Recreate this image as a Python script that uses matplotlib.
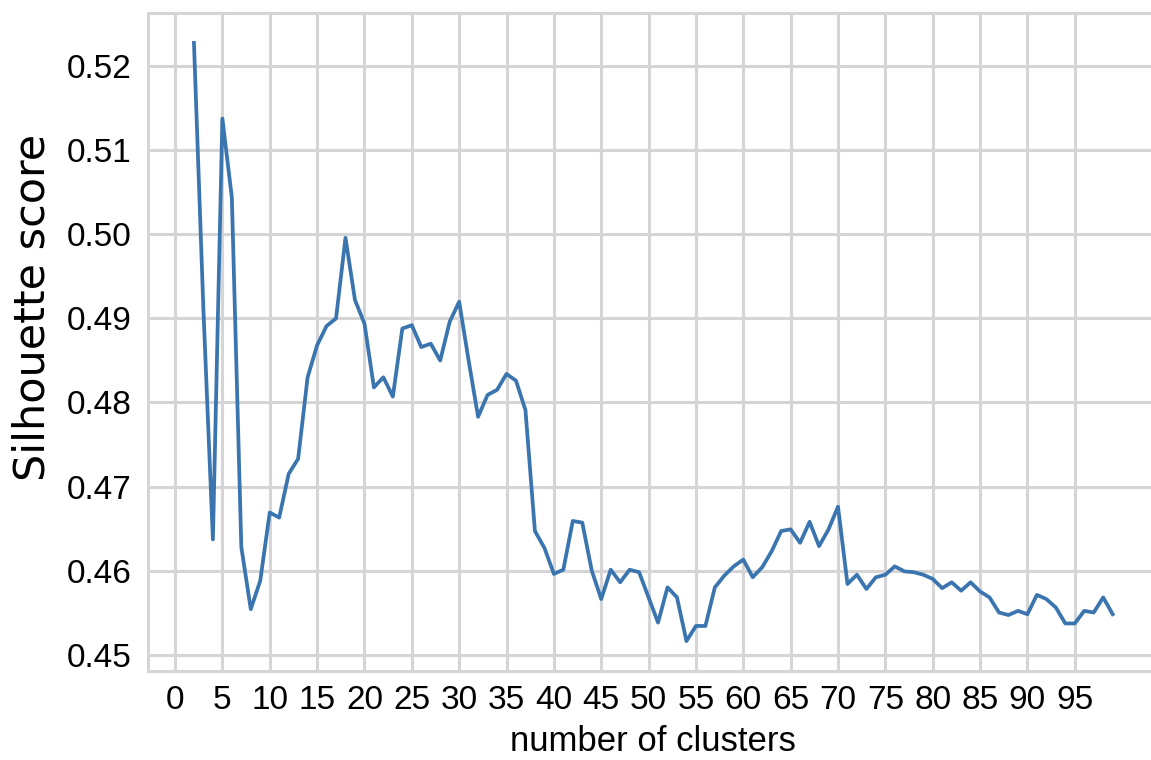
import matplotlib
matplotlib.use("Agg")
import matplotlib.pyplot as plt
import numpy as np

# Silhouette score for each candidate number of clusters
n_clusters = list(range(2, 100))
silhouette = [
    0.5228, 0.4910, 0.4637, 0.5138, 0.5044, 0.4628, 0.4554, 0.4588, 0.4669,  # 2-10
    0.4663, 0.4715, 0.4733, 0.4830, 0.4868, 0.4891, 0.4900, 0.4996, 0.4922,  # 11-19
    0.4894, 0.4818, 0.4830, 0.4807, 0.4888, 0.4892, 0.4866, 0.4870, 0.4850,  # 20-28
    0.4896, 0.4920, 0.4850, 0.4783, 0.4809, 0.4815, 0.4834, 0.4826, 0.4791,  # 29-37
    0.4647, 0.4627, 0.4596, 0.4601, 0.4659, 0.4657, 0.4600, 0.4566, 0.4601,  # 38-46
    0.4586, 0.4601, 0.4598, 0.4568, 0.4538, 0.4580, 0.4568, 0.4516, 0.4534,  # 47-55
    0.4534, 0.4580, 0.4594, 0.4605, 0.4613, 0.4592, 0.4604, 0.4623, 0.4647,  # 56-64
    0.4649, 0.4633, 0.4658, 0.4629, 0.4649, 0.4676, 0.4584, 0.4595, 0.4578,  # 65-73
    0.4592, 0.4595, 0.4605, 0.4599, 0.4598, 0.4595, 0.4590, 0.4579, 0.4586,  # 74-82
    0.4576, 0.4586, 0.4575, 0.4568, 0.4550, 0.4547, 0.4552, 0.4548, 0.4571,  # 83-91
    0.4566, 0.4556, 0.4537, 0.4537, 0.4552, 0.4550, 0.4568, 0.4548,          # 92-99
]
x_ticks = list(range(0, 100, 5))
y_ticks = [0.45, 0.46, 0.47, 0.48, 0.49, 0.50, 0.51, 0.52]

plt.rcParams["font.family"] = ["Liberation Sans", "DejaVu Sans"]

fig = plt.figure(figsize=(11.51, 7.60), dpi=100)
ax = fig.add_axes([0.1286, 0.1171, 0.878, 0.8658])

ax.plot(n_clusters, silhouette, color="#3a75b0", linewidth=2.7)

ax.set_xticks(x_ticks)
ax.set_yticks(y_ticks)
ax.set_yticklabels([f"{v:.2f}" for v in y_ticks])

grid_col = "#d5d5d5"
ax.grid(True, color=grid_col, linewidth=2.2)
ax.set_axisbelow(True)
for s in ax.spines.values():
    s.set_color(grid_col)
    s.set_linewidth(2.2)
ax.tick_params(axis="both", length=0, labelsize=24, colors="black")
ax.tick_params(axis="y", pad=12)
ax.tick_params(axis="x", pad=10)

ax.set_xlabel("number of clusters", fontsize=25)
ax.xaxis.set_label_coords(0.5, -0.082)
ax.set_ylabel("Silhouette score", fontsize=31, family=["DejaVu Sans"])
ax.yaxis.set_label_coords(-0.094, 0.552)

fig.savefig("out.png", dpi=100)
